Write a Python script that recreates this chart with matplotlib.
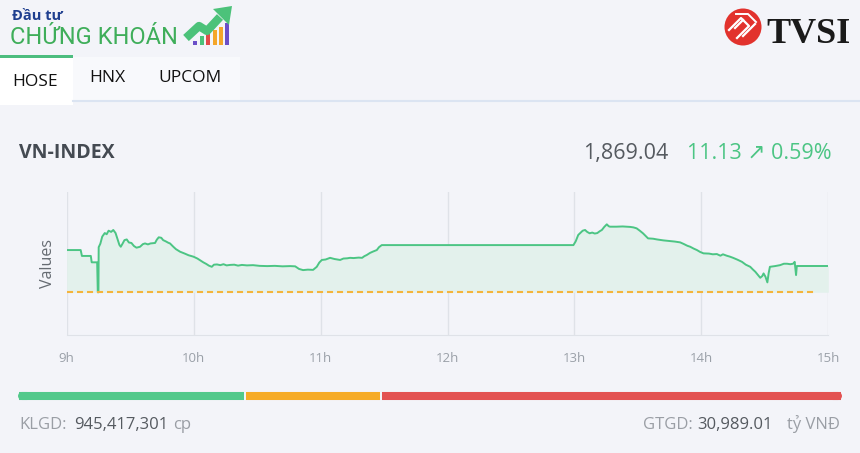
import matplotlib
matplotlib.use("Agg")
import matplotlib.pyplot as plt
from matplotlib.patches import Rectangle, Circle, Polygon

# ---------------------------------------------------------------- data
hours = [9.000, 9.110, 9.120, 9.190, 9.197, 9.240, 9.245, 9.250, 9.252, 9.265, 9.280, 9.300,
         9.315, 9.330, 9.350, 9.367, 9.385, 9.400, 9.415, 9.426, 9.440, 9.455, 9.473, 9.490,
         9.510, 9.530, 9.550, 9.578, 9.600, 9.617, 9.640, 9.660, 9.696, 9.710, 9.725, 9.745,
         9.760, 9.780, 9.800, 9.814, 9.840, 9.860, 9.893, 9.930, 9.960, 9.998, 10.030, 10.050,
         10.076, 10.100, 10.120, 10.143, 10.160, 10.184, 10.210, 10.235, 10.260, 10.287, 10.320,
         10.350, 10.380, 10.420, 10.468, 10.520, 10.580, 10.640, 10.700, 10.760, 10.800, 10.830,
         10.862, 10.900, 10.941, 10.970, 10.990, 11.010, 11.040, 11.075, 11.110, 11.130, 11.154,
         11.180, 11.210, 11.232, 11.260, 11.300, 11.327, 11.345, 11.364, 11.390, 11.415, 11.443,
         11.460, 11.482, 12.992, 13.010, 13.030, 13.050, 13.065, 13.084, 13.100, 13.120, 13.140,
         13.160, 13.180, 13.200, 13.216, 13.235, 13.255, 13.270, 13.280, 13.330, 13.380, 13.440,
         13.465, 13.490, 13.515, 13.540, 13.560, 13.580, 13.620, 13.650, 13.700, 13.754, 13.790,
         13.833, 13.860, 13.890, 13.912, 13.940, 13.965, 13.990, 14.017, 14.060, 14.090, 14.122,
         14.150, 14.170, 14.200, 14.225, 14.250, 14.285, 14.320, 14.350, 14.385, 14.405, 14.425,
         14.445, 14.464, 14.480, 14.490, 14.505, 14.520, 14.530, 14.540, 14.580, 14.620, 14.650,
         14.675, 14.700, 14.723, 14.735, 14.746, 14.752, 15.000]
index_vals = [1875.8, 1875.8, 1873.3, 1873.3, 1870.6, 1870.6, 1857.9, 1857.9, 1877.0, 1878.5, 1881.5, 1883.0,
              1882.5, 1884.0, 1883.5, 1884.3, 1883.0, 1880.5, 1878.0, 1877.2, 1878.5, 1880.0, 1880.3, 1879.0,
              1878.8, 1877.5, 1876.8, 1877.2, 1878.3, 1878.6, 1878.2, 1878.6, 1878.8, 1880.2, 1881.2, 1881.0,
              1880.0, 1879.5, 1878.9, 1878.6, 1877.2, 1876.2, 1875.1, 1874.3, 1873.6, 1873.0, 1872.2, 1871.5,
              1870.6, 1869.9, 1869.2, 1868.7, 1869.6, 1869.7, 1869.4, 1869.8, 1869.3, 1869.5, 1869.6,
              1869.2, 1869.5, 1869.3, 1869.4, 1869.1, 1869.0, 1869.1, 1868.9, 1869.0, 1868.9, 1867.8,
              1867.3, 1867.5, 1867.4, 1868.7, 1870.5, 1871.6, 1871.8, 1872.5, 1872.0, 1871.8, 1871.6,
              1872.2, 1872.3, 1872.5, 1872.4, 1872.6, 1872.5, 1873.2, 1873.7, 1874.6, 1875.2, 1875.8,
              1877.0, 1877.9, 1877.9, 1879.5, 1882.2, 1883.2, 1884.0, 1884.3, 1883.5, 1882.9, 1883.2,
              1882.8, 1883.0, 1883.8, 1884.3, 1885.6, 1886.7, 1885.9, 1885.7, 1885.7, 1885.8, 1885.6,
              1885.4, 1885.0, 1884.0, 1882.9, 1881.8, 1880.75, 1880.6, 1880.3, 1879.9, 1879.6, 1879.4,
              1879.05, 1878.4, 1877.6, 1877.2, 1876.4, 1875.8, 1875.0, 1874.4, 1874.3, 1874.0, 1874.1,
              1873.4, 1874.0, 1873.4, 1873.0, 1872.5, 1871.7, 1870.8, 1869.6, 1868.7, 1867.6, 1866.6,
              1865.3, 1864.05, 1864.8, 1865.9, 1864.5, 1862.1, 1866.0, 1868.7, 1869.0, 1869.4, 1870.0,
              1870.0, 1869.8, 1870.0, 1870.8, 1865.2, 1869.04, 1869.04]
ref_value = 1857.91
hour_ticks = [9, 10, 11, 12, 13, 14, 15]
hour_labels = ["9h", "10h", "11h", "12h", "13h", "14h", "15h"]
breadth = [225, 134, 459]          # advancing / unchanged / declining (bar widths)
breadth_colors = ["#52c98b", "#f6ab27", "#e35252"]

BG = "#f3f4f9"
GREEN = "#4cc584"
FONT = ["Open Sans", "DejaVu Sans"]

fig = plt.figure(figsize=(8.6, 4.53), dpi=100, facecolor=BG)

# overlay in pixel coords for all the page furniture
bg = fig.add_axes([0, 0, 1, 1])
bg.set_xlim(0, 860)
bg.set_ylim(453, 0)
bg.axis("off")
bg.set_facecolor(BG)

# ---------------------------------------------------------------- header logos
bg.text(12, 20, "Đầu tư", fontsize=10.5, fontweight="bold", color="#1f3f8f", family=FONT, va="baseline")
bg.text(10, 44, "CHỨNG KHOÁN", fontsize=17, color="#3fae5a",
        family=["Roboto", "DejaVu Sans"], va="baseline")
for x0, h, c in [(193, 4, "#6b4fc8"), (200, 9, "#4cc27a"), (206, 12, "#e34a4a"),
                 (213, 15, "#f4a62a"), (219, 18, "#f4a62a"), (225, 22, "#6b4fc8")]:
    bg.add_patch(Rectangle((x0, 45 - h), 3.5, h, color=c, lw=0))
bg.plot([186, 199, 207, 220], [38, 26, 31, 17], color="#4cc27a", lw=6, solid_capstyle="butt")
bg.add_patch(Polygon([[213, 9], [232, 6], [229, 25]], color="#4cc27a", lw=0))

bg.add_patch(Circle((743, 27), 18.5, color="#e2322d", lw=0))
bg.plot([729, 741, 749, 737], [30, 18, 26, 38], color="white", lw=1.6)
bg.plot([735, 743], [28, 20], color="white", lw=1.6)
bg.plot([743, 755], [36, 24], color="white", lw=1.6)
bg.plot([736, 748, 756], [14, 14, 22], color="white", lw=1.4)
bg.text(766, 43, "TVSI", fontsize=26, fontweight="bold", color="#1a1a1a",
        family=["Liberation Serif", "DejaVu Serif"], va="baseline")

# ---------------------------------------------------------------- tabs
bg.add_patch(Rectangle((73, 57), 167, 43, color="#f8f9fc", lw=0))
bg.add_patch(Rectangle((0, 57), 73, 48, color="white", lw=0))
bg.add_patch(Rectangle((0, 55), 73, 3, color="#4dbd7f", lw=0))
bg.plot([73, 860], [101, 101], color="#dbe4f2", lw=1.5)
bg.text(12, 86, "HOSE", fontsize=12.5, color="#111111", family=FONT, va="baseline")
bg.text(89, 82, "HNX", fontsize=12.5, color="#111111", family=FONT, va="baseline")
bg.text(158, 82, "UPCOM", fontsize=12.5, color="#111111", family=FONT, va="baseline")

# ---------------------------------------------------------------- index header
bg.text(19, 158, "VN-INDEX", fontsize=14, fontweight="bold", color="#444a52", family=FONT, va="baseline")
bg.text(668, 159, "1,869.04", fontsize=15.5, color="#555a60", family=FONT, va="baseline", ha="right")
bg.text(832, 159, "11.13 ↗ 0.59%", fontsize=15.5, color=GREEN, family=FONT, va="baseline", ha="right")

# ---------------------------------------------------------------- chart
ax = fig.add_axes([66.7 / 860, 1 - 335 / 453, (828.3 - 66.7) / 860, (335 - 192) / 453])
ax.set_facecolor(BG)
ax.fill_between(hours, index_vals, ref_value, color="#e3f1ec", lw=0)
ax.plot(hours, index_vals, color=GREEN, lw=1.4)
ax.axhline(ref_value, color="#f5b43c", lw=1.5, dashes=(2.9, 1.9), xmax=0.984)
for h in hour_ticks:
    ax.axvline(h, color="#dfe2e8", lw=1, zorder=0)
ax.set_xlim(9, 15)
ax.set_ylim(1839.8, 1900.4)
ax.set_xticks(hour_ticks)
ax.set_xticklabels(hour_labels, fontsize=9.5, color="#9aa0a8", family=FONT)
ax.set_yticks([])
ax.tick_params(axis="x", length=0, pad=12)
for s in ["top", "left", "right"]:
    ax.spines[s].set_visible(False)
ax.spines["bottom"].set_color("#dfe2e8")
ax.set_ylabel("Values", fontsize=11.5, color="#666b72", family=FONT, labelpad=8)

# ---------------------------------------------------------------- market breadth bar
total = sum(breadth)
x = 19.0
span = 841 - 19 - 2 * 2
for i, (w, c) in enumerate(zip(breadth, breadth_colors)):
    wpx = w / total * span
    bg.plot([x, x + wpx], [396, 396], color=c, lw=5.8, solid_capstyle="butt")
    if i == 0:
        bg.plot([x + 3, x + 8], [396, 396], color=c, lw=5.8, solid_capstyle="round")
    if i == len(breadth) - 1:
        bg.plot([x + wpx - 8, x + wpx - 3], [396, 396], color=c, lw=5.8, solid_capstyle="round")
    x += wpx + 2

bg.text(19, 429, "KLGD:", fontsize=12, color="#9a9ea5", family=FONT, va="baseline")
bg.text(74, 429, "945,417,301", fontsize=12, color="#555a60", family=FONT, va="baseline")
bg.text(173, 429, "cp", fontsize=12, color="#9a9ea5", family=FONT, va="baseline")
bg.text(693, 429, "GTGD:", fontsize=12, color="#9a9ea5", family=FONT, va="baseline", ha="right")
bg.text(773, 429, "30,989.01", fontsize=12, color="#555a60", family=FONT, va="baseline", ha="right")
bg.text(840, 429, "tỷ VNĐ", fontsize=12, color="#9a9ea5", family=FONT, va="baseline", ha="right")

fig.savefig("out.png", dpi=100, facecolor=BG)
